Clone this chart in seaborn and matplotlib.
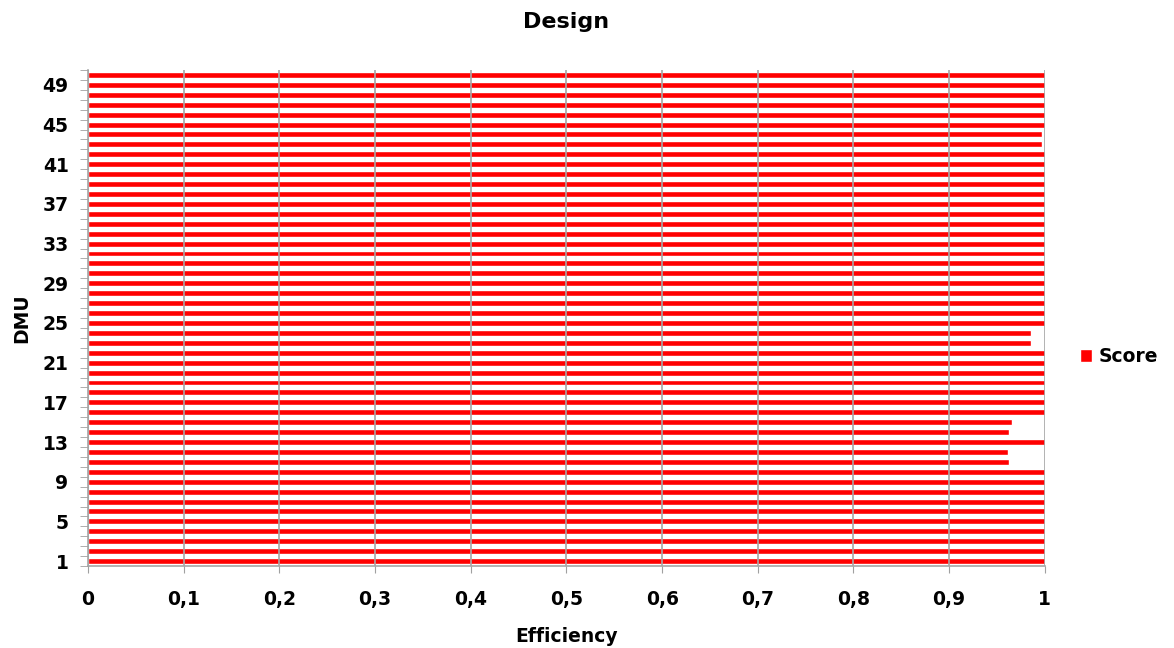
import numpy as np
import pandas as pd
import seaborn as sns
import matplotlib.pyplot as plt
from matplotlib.patches import Patch

# DMU efficiency scores (1 = efficient)
dmu = list(range(1, 51))
score = [1.0] * 50
score[11 - 1] = 0.962
score[12 - 1] = 0.961
score[14 - 1] = 0.963
score[15 - 1] = 0.966
score[23 - 1] = 0.985
score[24 - 1] = 0.985
score[43 - 1] = 0.997
score[44 - 1] = 0.997

tick_labels = [str(d) for d in range(1, 51, 4)]

df = pd.DataFrame({"DMU": [str(d) for d in dmu], "Score": score})
order = [str(d) for d in dmu[::-1]]

sns.set_style("white")
plt.rcParams["font.family"] = ["DejaVu Sans"]
plt.rcParams["font.weight"] = "bold"
plt.rcParams["text.color"] = "black"
plt.rcParams["axes.labelcolor"] = "black"
plt.rcParams["xtick.color"] = "black"
plt.rcParams["ytick.color"] = "black"

fs = 13.5

fig = plt.figure(figsize=(11.74, 6.48), dpi=100)
ax = fig.add_axes([0.075, 0.1265, 0.815, 0.7655])

sns.barplot(data=df, x="Score", y="DMU", order=order, orient="h",
            color="#ff0000", saturation=1, width=0.6, ax=ax, zorder=1)

ax.set_xlim(0, 1)
ax.set_ylim(49.5, -0.5)
ax.set_xticks(np.arange(0, 1.01, 0.1))
ax.set_xticklabels(["0"] + [f"0,{i}" for i in range(1, 10)] + ["1"],
                   fontsize=fs, fontweight="bold")
pos = [order.index(t) for t in tick_labels]
ax.set_yticks(pos)
ax.set_yticklabels(tick_labels, fontsize=fs, fontweight="bold")
ax.set_yticks(np.arange(-0.5, 50, 1), minor=True)
ax.tick_params(axis="y", which="major", length=0, pad=14)
ax.tick_params(axis="y", which="minor", length=6, color="#a0a0a0", left=True)
ax.tick_params(axis="x", length=5, color="#a0a0a0", bottom=True, pad=12)

ax.set_axisbelow(False)
ax.grid(axis="x", color="#a6a6a6", linewidth=1.2, linestyle="-")
for s in ["top", "right"]:
    ax.spines[s].set_visible(False)
for s in ["left", "bottom"]:
    ax.spines[s].set_color("#a6a6a6")
    ax.spines[s].set_linewidth(1.2)

ax.set_xlabel("Efficiency", fontsize=fs, fontweight="bold", labelpad=13)
ax.set_ylabel("DMU", fontsize=fs, fontweight="bold", labelpad=8)
ax.set_title("Design", fontsize=16, fontweight="bold", pad=30)

fig.legend(handles=[Patch(facecolor="#ff0000", label="Score")],
           loc="center left", bbox_to_anchor=(0.92, 0.45), frameon=False,
           borderaxespad=0, borderpad=0,
           handlelength=0.65, handleheight=0.65, handletextpad=0.35,
           prop={"size": fs, "weight": "bold"})

fig.savefig("out.png", dpi=100)
